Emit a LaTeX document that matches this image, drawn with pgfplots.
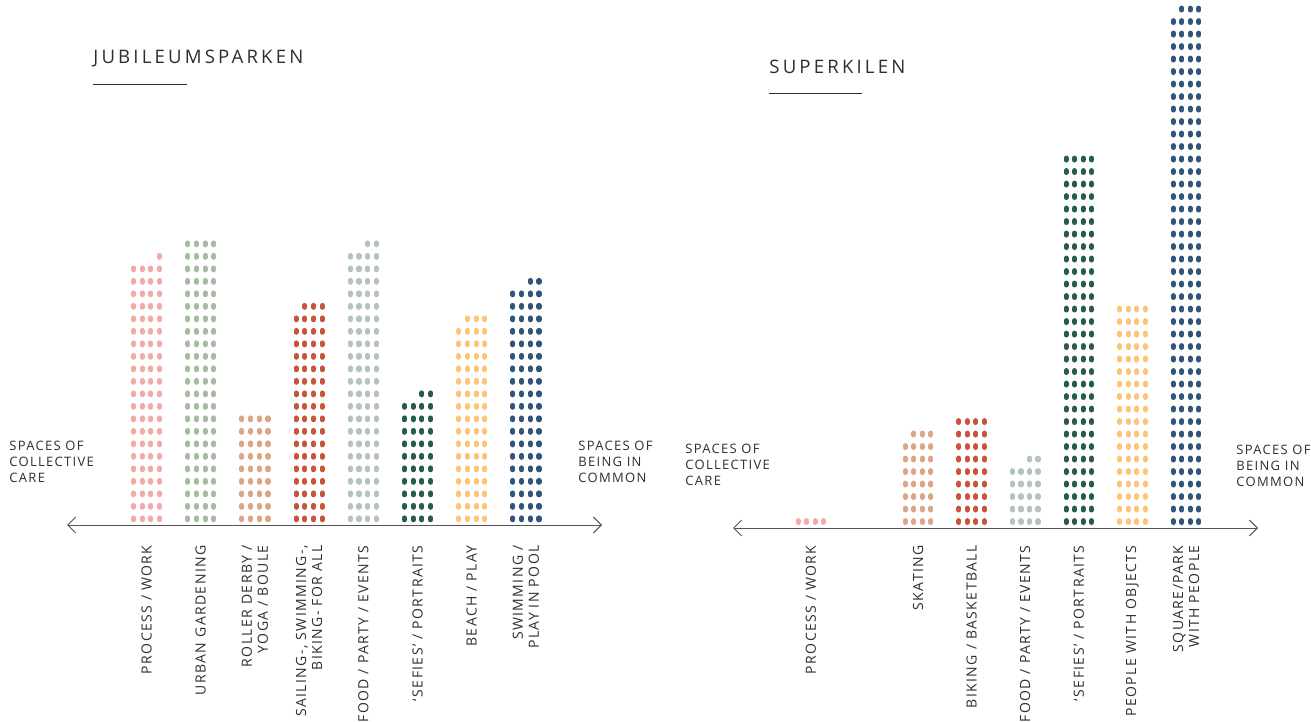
\documentclass[border=0pt]{standalone}
\usepackage{pgfplots}
\pgfplotsset{compat=1.18}
\usepackage{fontspec}
\usetikzlibrary{arrows.meta}
\setmainfont{Open Sans}
\newfontfamily\labff[LetterSpace=10]{Open Sans}
\newfontfamily\titff[LetterSpace=17]{Open Sans}
\newcommand\lab{\labff\fontsize{6.5pt}{8pt}\selectfont}
\newcommand\tlab{\labff\fontsize{7pt}{8pt}\selectfont}
\newcommand\tit{\titff\fontsize{9.3pt}{11pt}\selectfont}
\definecolor{cPink}{HTML}{F4A9A5}
\definecolor{cGreen}{HTML}{A4BC9F}
\definecolor{cTan}{HTML}{DBA586}
\definecolor{cRed}{HTML}{C8553A}
\definecolor{cGray}{HTML}{B4C3BF}
\definecolor{cDkGreen}{HTML}{275B50}
\definecolor{cYellow}{HTML}{FDC478}
\definecolor{cBlue}{HTML}{31557A}
\definecolor{labc}{HTML}{2E2E2E}
\definecolor{linec}{HTML}{555555}
\pgfplotsset{
  dotsty/.style={ycomb, line width=2.55pt, line cap=round, dash pattern=on 0.9pt off 5.35pt},
  panel/.style={anchor=south west, y=6.25pt, clip=false, hide y axis,
    axis line style={draw=none}, major tick length=0pt, ytick=\empty,
    xticklabel style={rotate=90, anchor=east, align=right, inner sep=0pt, font=\tlab, text=labc}},
}
\tikzset{arr/.style={draw=linec, line width=0.5pt, {Straight Barb[length=4pt,width=8pt]}-{Straight Barb[length=4pt,width=8pt]}}}
% color, category position, dots in each of the four sub-columns
\newcommand\dotcol[6]{\addplot[dotsty,draw=#1] table[row sep=\\, x expr={#2+\thisrow{o}*\dd}, y expr={\thisrow{n}-0.856}] {o n\\ -1.5 #3\\ -0.5 #4\\ 0.5 #5\\ 1.5 #6\\};}
\begin{document}
\begin{tikzpicture}
% ---------------- JUBILEUMSPARKEN ----------------
\def\dd{0.1605}
\begin{axis}[panel, at={(29.9pt,-272.5pt)}, x=27.1pt,
  xmin=-1.6, xmax=8.6, ymin=-2.02, ymax=24,
  xtick={0,...,7},
  xticklabels={PROCESS / WORK, URBAN GARDENING, {ROLLER DERBY /\\YOGA / BOULE}, {SAILING-, SWIMMING-,\\BIKING- FOR ALL}, FOOD / PARTY / EVENTS, ‘SEFIES’ / PORTRAITS, BEACH / PLAY, {SWIMMING /\\PLAY IN POOL}},
]
\dotcol{cPink}{0}{21}{21}{21}{22}
\dotcol{cGreen}{1}{23}{23}{23}{23}
\dotcol{cTan}{2}{9}{9}{9}{9}
\dotcol{cRed}{3}{17}{18}{18}{18}
\dotcol{cGray}{4}{22}{22}{23}{23}
\dotcol{cDkGreen}{5}{10}{10}{11}{11}
\dotcol{cYellow}{6}{16}{17}{17}{17}
\dotcol{cBlue}{7}{19}{19}{20}{20}
\draw[arr] (axis cs:-1.467,-0.42) -- (axis cs:8.404,-0.42);
\end{axis}
% ---------------- SUPERKILEN ----------------
\def\dd{0.1586}
\begin{axis}[panel, at={(362.52pt,-272.5pt)}, x=26.8pt,
  xmin=-1.6, xmax=8.6, ymin=-1.804, ymax=43,
  xtick={0,2,3,4,5,6,7},
  xticklabels={PROCESS / WORK, SKATING, BIKING / BASKETBALL, FOOD / PARTY / EVENTS, ‘SEFIES’ / PORTRAITS, PEOPLE WITH OBJECTS, {SQUARE/PARK\\WITH PEOPLE}},
]
\dotcol{cPink}{0}{1}{1}{1}{1}
\dotcol{cTan}{2}{7}{8}{8}{8}
\dotcol{cRed}{3}{9}{9}{9}{9}
\dotcol{cGray}{4}{5}{5}{6}{6}
\dotcol{cDkGreen}{5}{30}{30}{30}{30}
\dotcol{cYellow}{6}{18}{18}{18}{18}
\dotcol{cBlue}{7}{41}{42}{42}{42}
\draw[arr] (axis cs:-1.451,-0.444) -- (axis cs:8.343,-0.444);
\end{axis}
% titles
\node[anchor=base west, inner sep=0pt, text=labc, font=\tit] at (46.5pt,-31.65pt) {JUBILEUMSPARKEN};
\draw[labc, line width=0.5pt] (46.5pt,-42.5pt) -- (93.5pt,-42.5pt);
\node[anchor=base west, inner sep=0pt, text=labc, font=\tit] at (384.5pt,-36.75pt) {SUPERKILEN};
\draw[labc, line width=0.5pt] (384.5pt,-47pt) -- (431pt,-47pt);
% side texts
\begin{scope}[every node/.style={anchor=base west, inner sep=0pt, text=labc, font=\lab}]
\node at (4.5pt,-225.25pt) {SPACES OF};
\node at (4.5pt,-233.25pt) {COLLECTIVE};
\node at (4.5pt,-241.25pt) {CARE};
\node at (289pt,-225.25pt) {SPACES OF};
\node at (289pt,-233.25pt) {BEING IN};
\node at (289pt,-241.25pt) {COMMON};
\node at (342.5pt,-226.75pt) {SPACES OF};
\node at (342.5pt,-234.75pt) {COLLECTIVE};
\node at (342.5pt,-242.75pt) {CARE};
\node at (618pt,-227.25pt) {SPACES OF};
\node at (618pt,-235.25pt) {BEING IN};
\node at (618pt,-243.25pt) {COMMON};
\end{scope}
\pgfresetboundingbox
\useasboundingbox (0pt,0pt) rectangle (655.5pt,-361pt);
\end{tikzpicture}
\end{document}
